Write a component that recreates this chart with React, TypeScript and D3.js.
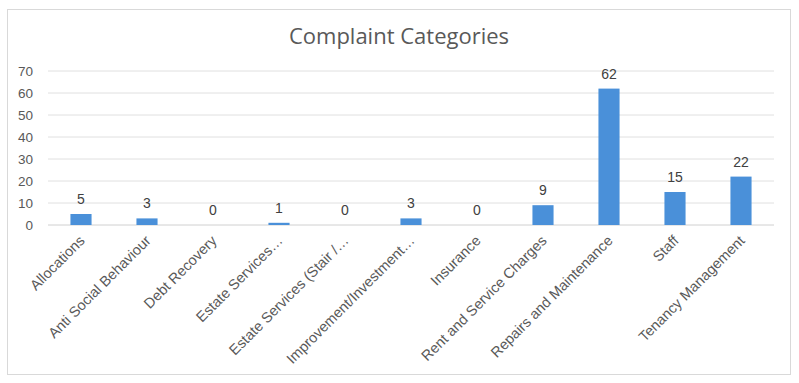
import React from "react";
import * as d3 from "d3";

const categories = [
  "Allocations",
  "Anti Social Behaviour",
  "Debt Recovery",
  "Estate Services…",
  "Estate Services (Stair /…",
  "Improvement/Investment…",
  "Insurance",
  "Rent and Service Charges",
  "Repairs and Maintenance",
  "Staff",
  "Tenancy Management",
];
const values = [5, 3, 0, 1, 0, 3, 0, 9, 62, 15, 22];
const yTicks = [0, 10, 20, 30, 40, 50, 60, 70];
const title = "Complaint Categories";

export default function App() {
  const W = 799, H = 383;
  const left = 48, right = 774, top = 71, bottom = 225;
  const x = d3.scaleBand<string>().domain(categories).range([left, right]).paddingInner(0.68).paddingOuter(0.34);
  const y = d3.scaleLinear().domain([0, 70]).range([bottom, top]);
  const font = "'Liberation Sans', Arial, sans-serif";
  return (
    <svg width={W} height={H} style={{ position: "absolute", left: 0, top: 0 }}>
      <rect x={0} y={0} width={W} height={H} fill="#fff" />
      <rect x={7.5} y={9.5} width={783} height={365} fill="#fff" stroke="#d9d9d9" />
      <text x={399} y={44} textAnchor="middle" fontFamily="'Open Sans', sans-serif" fontSize={22} fill="#595959">{title}</text>
      {yTicks.map((t) => (
        <g key={t}>
          <line x1={left} x2={right} y1={y(t)} y2={y(t)} stroke={t === 0 ? "#d0d0d0" : "#e0e0e0"} strokeWidth={1} />
          <text x={33} y={y(t)} dy="0.35em" textAnchor="end" fontFamily={font} fontSize={13.5} fill="#595959">{t}</text>
        </g>
      ))}
      {categories.map((c, i) => {
        const bx = x(c)!;
        const bw = x.bandwidth();
        const cx = bx + bw / 2;
        return (
          <g key={c}>
            <rect x={bx} y={y(values[i])} width={bw} height={bottom - y(values[i])} fill="#4a90d9" />
            <text x={cx} y={y(values[i]) - 10} textAnchor="middle" fontFamily={font} fontSize={14} fill="#404040">{values[i]}</text>
            <text transform={`translate(${cx + 1},${bottom + 13}) rotate(-45)`} textAnchor="end" dy="0.35em" fontFamily={font} fontSize={14.5} fill="#595959">{c}</text>
          </g>
        );
      })}
    </svg>
  );
}
